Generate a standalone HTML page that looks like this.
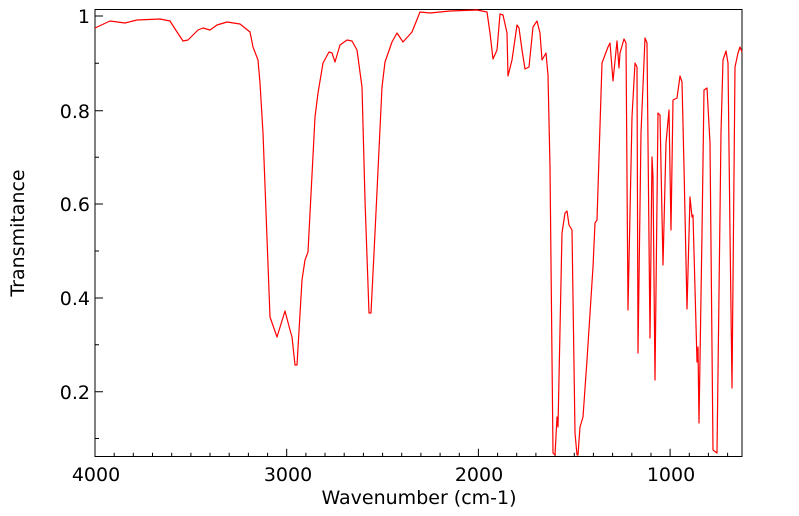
<!DOCTYPE html>
<html><head><meta charset="utf-8"><style>body{margin:0;background:#fff}svg{display:block}text{font-family:"DejaVu Sans","Liberation Sans",sans-serif;fill:#000}</style></head><body>
<svg width="799" height="516" viewBox="0 0 799 516" xmlns="http://www.w3.org/2000/svg">
<rect x="95" y="9.5" width="647" height="447" fill="none" stroke="#000" stroke-width="1"/>
<g stroke="#000" stroke-width="1">
<path d="M95 16h8M95 110.7h8M95 204h8M95 298h8M95 391.7h8"/>
<path d="M95 63.3h4M95 157.3h4M95 251h4M95 344.8h4M95 438.5h4"/>
<path d="M95 456.7v-8M286.7 456.7v-8M478.4 456.7v-8M670.1 456.7v-8"/>
<path d="M114.2 456.7v-4M133.3 456.7v-4M152.5 456.7v-4M171.7 456.7v-4M190.9 456.7v-4M210 456.7v-4M229.2 456.7v-4M248.4 456.7v-4M267.6 456.7v-4M305.9 456.7v-4M325 456.7v-4M344.2 456.7v-4M363.4 456.7v-4M382.6 456.7v-4M401.7 456.7v-4M420.9 456.7v-4M440.1 456.7v-4M459.3 456.7v-4M497.6 456.7v-4M516.7 456.7v-4M535.9 456.7v-4M555.1 456.7v-4M574.3 456.7v-4M593.4 456.7v-4M612.6 456.7v-4M631.8 456.7v-4M651 456.7v-4M689.3 456.7v-4M708.4 456.7v-4M727.6 456.7v-4"/>
</g>
<g font-size="19" text-anchor="end">
<text x="90" y="23">1</text><text x="90" y="118">0.8</text><text x="90" y="211">0.6</text><text x="90" y="305">0.4</text><text x="90" y="399">0.2</text>
</g>
<g font-size="19" text-anchor="middle">
<text x="96" y="481">4000</text><text x="288" y="481">3000</text><text x="479" y="481">2000</text><text x="671" y="481">1000</text>
<text x="419" y="504">Wavenumber (cm-1)</text>
<text transform="translate(24,233) rotate(-90)">Transmitance</text>
</g>
<polyline fill="none" stroke="#f00" stroke-width="1.2" stroke-linejoin="round" points="95,28 110,21 125,23 137,20 160,19 170,21 177,32 183,41 188,40 198,30 203,28 210,30 217,25 227,22 240,24 250,32 253,47 258,60 260,83 263,133 270,317 277,337 285,311 290,330 292,337 295,365 297,365 302,280 305,260 308,252 315,117 318,93 323,63 329,52 332,53 335,62 340,45 347,40 352,41 357,50 362,87 365,200 369,313 371,313 375,233 382,87 385,62 392,42 397,33 403,42 412,32 420,12 430,13 450,11 477,10 487,12 490,33 493,59 497,50 500,14 503,15 507,33 508,76 512,60 517,25 519,28 522,50 525,69 529,67 533,27 537,21 540,33 542,60 546,53 548,75 550,167 553,453 555,455 557,417 558,427 562,233 565,213 567,211 569,225 572,230 575,433 577,455 578,455 580,427 583,417 587,360 593,267 595,223 597,220 602,63 608,47 610,43 613,81 617,41 619,68 620,53 624,39 626,43 628,310 632,117 635,63 637,67 638,353 641,133 645,38 647,43 650,338 652,157 653,177 655,380 658,113 660,115 663,265 666,143 669,110 671,230 673,100 677,98 680,76 682,82 684,167 687,309 690,197 692,217 693,215 697,362 698,347 699,423 702,233 704,90 707,88 710,143 713,450 717,453 721,133 723,60 726,51 728,63 730,233 732,388 735,67 738,53 740,47 742,52"/>
</svg>
</body></html>
